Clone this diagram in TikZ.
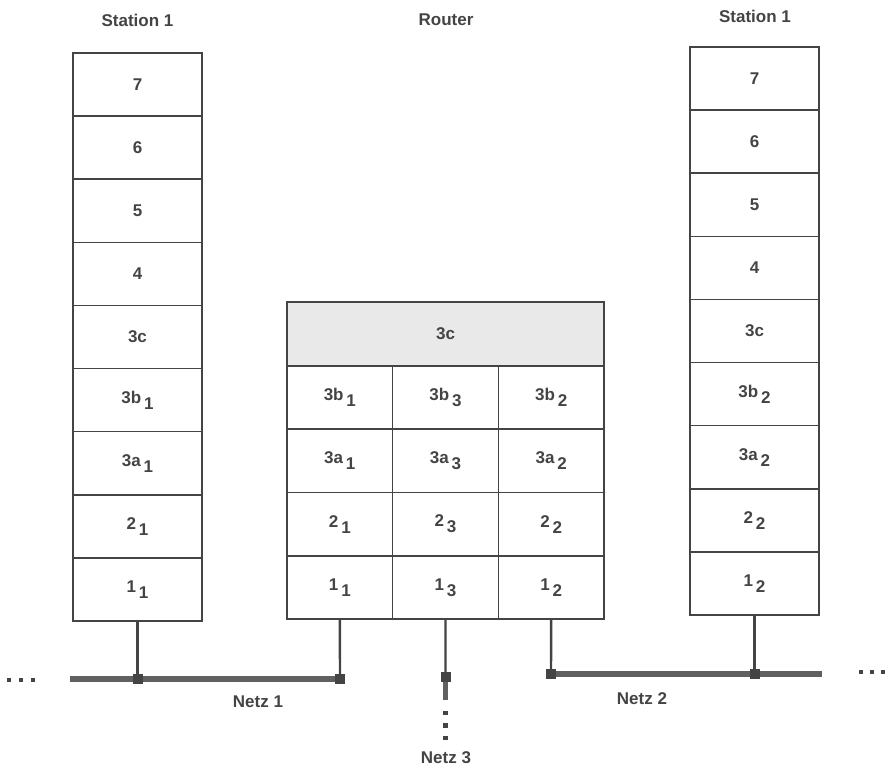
\documentclass[tikz,border=0pt]{standalone}
\usepackage{fontspec}
\setmainfont{Liberation Sans}
\newcommand{\lsub}[1]{\,\raisebox{-6pt}{#1}}
\definecolor{ink}{HTML}{444444}
\definecolor{shade}{HTML}{E9E9E9}
\begin{document}
\begin{tikzpicture}[x=1pt,y=-1pt,
  txt/.style={text=ink,font=\fontsize{17}{19}\selectfont\bfseries},
  cell/.style={draw=ink,line width=1.6pt,inner sep=0pt,outer sep=0pt,minimum width=129pt,minimum height=63.11pt,txt},
  rcell/.style={draw=ink,line width=1.6pt,inner sep=0pt,outer sep=0pt,minimum width=105.67pt,minimum height=63.25pt,txt},
  wire/.style={draw=ink,line width=2.4pt},
  bus/.style={draw=ink!85,line width=5.5pt},
  junc/.style={fill=ink,inner sep=0pt,minimum size=10pt},
  dot/.style={fill=ink,inner sep=0pt,minimum size=4.5pt}]
\useasboundingbox (0,0) rectangle (888,770);
% titles
\node[txt] (tl) at (137.5,20) {Station 1};
\node[txt] (tr) at (755,16) {Station 1};
\node[txt] (tm) at (446,20) {Router};
% left station
\foreach \n/\t [count=\i from 0] in {L7/7,L6/6,L5/5,L4/4,L3c/3c,L3b/3b\lsub{1},L3a/3a\lsub{1},L2/2\lsub{1},L1/1\lsub{1}}
  \node[cell] (\n) at (137.5,{53+63.11*(\i+0.5)}) {\t};
% right station
\foreach \n/\t [count=\i from 0] in {R7/7,R6/6,R5/5,R4/4,R3c/3c,R3b/3b\lsub{2},R3a/3a\lsub{2},R2/2\lsub{2},R1/1\lsub{2}}
  \node[cell] (\n) at (754.5,{47+63.11*(\i+0.5)}) {\t};
% router
\node[draw=ink,line width=1.6pt,fill=shade,inner sep=0pt,outer sep=0pt,minimum width=317pt,minimum height=64pt,txt] (M3c) at (445.5,334) {3c};
\foreach \c/\s [count=\j from 0] in {1/1,3/3,2/2}{
  \foreach \n/\t [count=\i from 0] in {b/3b,a/3a,two/2,one/1}
    \node[rcell] (M\n\c) at ({287+105.67*(\j+0.5)},{366+63.25*(\i+0.5)}) {\t\lsub{\s}};
}
% Netz 1
\coordinate (b1l) at (70,679);
\node[junc] (j1) at (137.5,679) {};
\node[junc] (j2) at (340,679) {};
\draw[bus] (b1l) -- (j2.center);
\draw[wire] (L1.south) -- (j1);
\draw[wire] (Mone1.south) -- (j2);
\node[junc] at (137.5,679) {};
\node[junc] at (340,679) {};
\node[dot] (d1) at (9,680) {};
\node[dot] (d2) at (21,680) {};
\node[dot] (d3) at (33,680) {};
\node[txt] (n1) at (258,702) {Netz 1};
% Netz 2
\node[junc] (j3) at (551,674) {};
\node[junc] (j4) at (754.5,674) {};
\coordinate (b2r) at (822,674);
\draw[bus] (j3.center) -- (b2r);
\draw[wire] (Mone2.south) -- (j3);
\draw[wire] (R1.south) -- (j4);
\node[junc] at (551,674) {};
\node[junc] at (754.5,674) {};
\node[dot] (d4) at (861,672) {};
\node[dot] (d5) at (872,672) {};
\node[dot] (d6) at (883,672) {};
\node[txt] (n2) at (642,699) {Netz 2};
% Netz 3
\node[junc] (j5) at (445.5,677) {};
\coordinate (b3e) at (445.5,700);
\draw[wire] (Mone3.south) -- (j5);
\draw[bus] (j5.center) -- (b3e);
\node[junc] at (445.5,677) {};
\node[dot] (d7) at (445.5,713) {};
\node[dot] (d8) at (445.5,725.5) {};
\node[dot] (d9) at (445.5,738) {};
\node[txt] (n3) at (446,758) {Netz 3};
\end{tikzpicture}
\end{document}
